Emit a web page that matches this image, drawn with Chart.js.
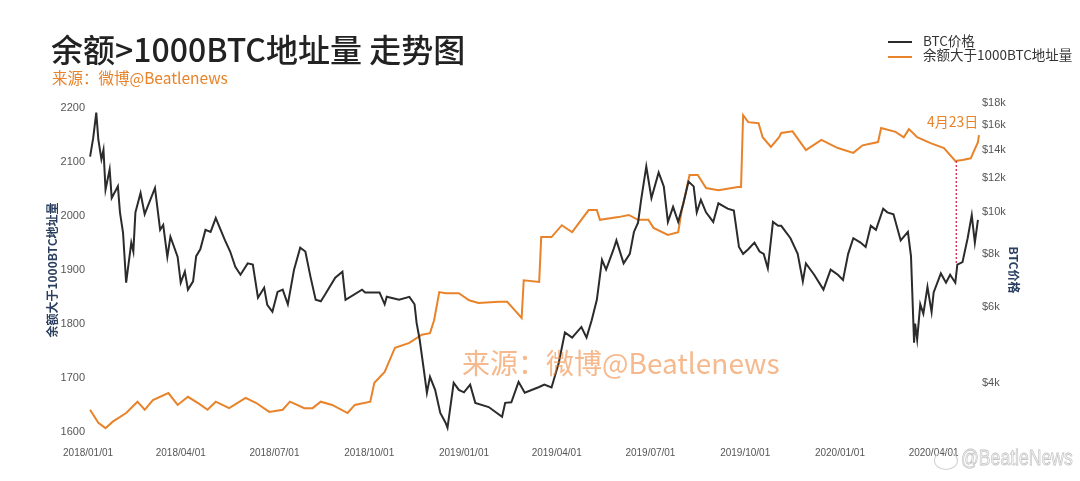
<!DOCTYPE html>
<html><head><meta charset="utf-8">
<script src="https://cdn.jsdelivr.net/npm/chart.js@4"></script>
<style>
html,body{margin:0;padding:0;background:#fff;width:1080px;height:481px;overflow:hidden;}
#wrap{position:relative;width:1080px;height:481px;}
canvas{position:absolute;left:0;top:0;}
.t{position:absolute;white-space:nowrap;font-family:"Noto Sans CJK SC","Noto Sans",sans-serif;line-height:1;}
.lg{position:absolute;height:2px;width:24px;left:888px;}
</style></head><body>
<div id="wrap">
<canvas id="c" width="1080" height="481"></canvas>
<div class="t" style="left:51px;top:32px;font-size:32px;font-weight:500;color:#222;">余额&gt;1000BTC地址量 走势图</div>
<div class="t" style="left:52px;top:70px;font-size:15.5px;color:#e8832a;">来源：微博@Beatlenews</div>
<div class="lg" style="top:41px;background:#2b2b2b;"></div>
<div class="lg" style="top:56px;background:#e8832a;"></div>
<div class="t" style="left:923px;top:34px;font-size:13.5px;color:#333;">BTC价格</div>
<div class="t" style="left:923px;top:48px;font-size:13.5px;color:#333;">余额大于1000BTC地址量</div>
<div class="t" style="left:462px;top:348px;font-size:28px;color:rgba(236,128,48,0.55);">来源：微博@Beatlenews</div>
<div style="position:absolute;left:934px;top:451px;width:22px;height:17px;border:1.5px solid #cfcfcf;border-radius:50%;"></div>
<div class="t" style="left:961px;top:447px;font-size:22px;color:#fafafa;-webkit-text-stroke:0.8px #c4c4c4;font-family:'Liberation Sans',sans-serif;transform:scaleX(0.8);transform-origin:left top;">@BeatleNews</div>
</div>
<script>
// ---- data ----
const startDate = Date.UTC(2018, 0, 1);
const xTickDays = [0, 90, 181, 273, 365, 455, 546, 638, 730, 821];
const leftTicks = [1600, 1700, 1800, 1900, 2000, 2100, 2200];
const rightTicks = [4000, 6000, 8000, 10000, 12000, 14000, 16000, 18000];

const btcDays = [2,5,8,10,13,15,17,21,23,29,31,34,37,42,44,46,51,55,65,70,73,77,80,87,90,94,97,102,105,109,114,119,124,133,138,143,148,155,160,165,171,174,179,184,189,194,200,206,211,216,221,226,230,240,247,250,266,269,283,288,290,302,312,317,319,322,326,329,332,337,342,347,349,355,360,365,371,376,389,402,405,411,418,424,438,443,450,457,463,470,479,484,489,494,499,503,510,513,520,526,530,534,537,542,547,554,559,563,568,573,578,583,588,591,595,600,607,612,621,627,632,636,641,647,652,656,660,665,670,673,682,689,694,697,705,714,721,728,733,738,743,750,755,760,765,772,776,782,789,796,799,802,803,805,808,811,815,819,821,828,833,837,842,844,849,854,858,861,864];
const btcPrice = [13500,14900,17100,14800,13300,14000,11300,12600,10800,11500,10000,8960,6850,8500,8100,10000,11100,9900,11400,9100,9350,7870,8770,7870,6850,7270,6600,6900,7900,8200,9100,9000,9700,8600,8100,7460,7150,7600,7550,6320,6670,6080,5860,6520,6600,6100,7350,8270,8100,7070,6250,6200,6420,7040,7270,6250,6600,6500,6500,6100,6350,6250,6350,6100,5520,5040,4290,3790,4130,3850,3400,3230,3140,4000,3850,3800,3960,3590,3510,3330,3590,3600,4020,3790,3910,3960,3900,4450,5240,5100,5400,5100,5600,6250,7750,7350,8170,8600,7600,8000,9000,9460,10700,12800,10800,12400,11500,9500,10300,9500,10500,11800,11500,10000,10700,10000,9500,10500,10200,10100,8300,8000,8200,8500,8100,8000,7400,9500,9300,9300,8700,8000,6900,7600,7150,6600,7350,7150,6950,8000,8700,8500,8300,9300,9100,10200,10000,9900,8600,9000,7900,4960,5500,5050,6100,5800,6700,5850,6500,7200,6850,7150,6850,7550,7650,8700,9850,8500,9600];

const addrDays = [2,10,17,24,37,48,55,63,78,87,97,108,116,124,137,153,163,176,189,196,210,218,226,237,252,259,274,278,288,298,312,324,332,336,341,347,360,370,379,399,407,414,421,423,438,440,450,460,470,486,494,497,515,525,534,544,549,563,573,576,584,592,600,612,631,634,636,641,651,655,663,671,673,684,697,712,728,743,752,767,770,784,792,797,805,818,831,842,849,857,864,865];
const addrCount = [1641,1617,1607,1619,1635,1656,1641,1659,1672,1650,1665,1652,1641,1656,1644,1663,1654,1637,1641,1656,1644,1644,1656,1650,1635,1650,1656,1691,1711,1756,1765,1780,1783,1807,1859,1857,1857,1844,1839,1841,1841,1826,1811,1881,1878,1961,1961,1983,1970,2011,2011,1993,1998,2002,1993,1993,1978,1965,1970,2006,2076,2076,2052,2048,2054,2054,2187,2174,2172,2146,2128,2146,2154,2157,2122,2141,2126,2117,2131,2137,2163,2156,2146,2161,2146,2135,2126,2102,2104,2107,2137,2150];

const markDay = 843;
const markAddr = 2102;
const markPrice = 7550;
const markLabel = '4月23日';
const markLabelLevel = 2175;

// ---- helpers ----
function fmtDay(d) {
  const dt = new Date(startDate + d * 86400000);
  const m = String(dt.getUTCMonth() + 1).padStart(2, '0');
  const dd = String(dt.getUTCDate()).padStart(2, '0');
  return dt.getUTCFullYear() + '/' + m + '/' + dd;
}
const btcData = btcDays.map((d, i) => ({x: d, y: btcPrice[i]}));
const addrData = addrDays.map((d, i) => ({x: d, y: addrCount[i]}));

const annot = {
  id: 'annot',
  afterDatasetsDraw(chart) {
    const {ctx, scales} = chart;
    const px = scales.x.getPixelForValue(markDay);
    const y1 = scales.yL.getPixelForValue(markAddr);
    const y2 = scales.yR.getPixelForValue(markPrice);
    ctx.save();
    ctx.strokeStyle = '#d9304f';
    ctx.lineWidth = 1.4;
    ctx.setLineDash([2, 2]);
    ctx.beginPath(); ctx.moveTo(px, y1); ctx.lineTo(px, y2); ctx.stroke();
    ctx.setLineDash([]);
    ctx.fillStyle = '#e8832a';
    ctx.font = '14px "Noto Sans CJK SC"';
    ctx.textAlign = 'right';
    ctx.textBaseline = 'middle';
    ctx.fillText(markLabel, px + 22, scales.yL.getPixelForValue(markLabelLevel));
    ctx.restore();
  }
};

const tickFont = {family: '"Liberation Sans", Arial, sans-serif', size: 11};
const titleFont = {family: '"Noto Sans CJK SC", sans-serif', size: 12, weight: 'bold'};
const noGrid = {display: false, drawTicks: false, tickLength: 0};

new Chart(document.getElementById('c'), {
  type: 'line',
  data: {
    datasets: [
      {label: 'BTC价格', data: btcData, yAxisID: 'yR', borderColor: '#2b2b2b', borderWidth: 2, pointRadius: 0, tension: 0, fill: false},
      {label: '余额大于1000BTC地址量', data: addrData, yAxisID: 'yL', borderColor: '#e8832a', borderWidth: 2, pointRadius: 0, tension: 0, fill: false}
    ]
  },
  options: {
    responsive: false,
    animation: false,
    devicePixelRatio: 1,
    layout: {padding: {left: 41, right: 55, top: 100, bottom: 15}},
    plugins: {legend: {display: false}, tooltip: {enabled: false}},
    scales: {
      x: {
        type: 'linear', min: -1, max: 866,
        grid: noGrid, border: {display: false},
        afterBuildTicks: s => { s.ticks = xTickDays.map(v => ({value: v})); },
        afterFit: s => { s.height = 26; },
        ticks: {autoSkip: false, maxRotation: 0, padding: 7, color: '#555', font: {family: '"Liberation Sans", Arial, sans-serif', size: 10}, callback: v => fmtDay(v)}
      },
      yL: {
        type: 'linear', position: 'left', min: 1585, max: 2215,
        grid: noGrid, border: {display: false},
        afterBuildTicks: s => { s.ticks = leftTicks.map(v => ({value: v})); },
        afterFit: s => { s.width = 46; },
        ticks: {padding: 2, color: '#555', font: tickFont, callback: v => String(v)},
        title: {display: true, text: '余额大于1000BTC地址量', color: '#2a3f5f', font: titleFont}
      },
      yR: {
        type: 'logarithmic', position: 'right', min: 2940, max: 18300,
        grid: noGrid, border: {display: false},
        afterBuildTicks: s => { s.ticks = rightTicks.map(v => ({value: v})); },
        afterFit: s => { s.width = 45; },
        ticks: {padding: 2, color: '#555', font: tickFont, callback: v => '$' + (v / 1000) + 'k'},
        title: {display: true, text: 'BTC价格', color: '#2a3f5f', font: titleFont}
      }
    }
  },
  plugins: [annot]
});
</script>
</body></html>
